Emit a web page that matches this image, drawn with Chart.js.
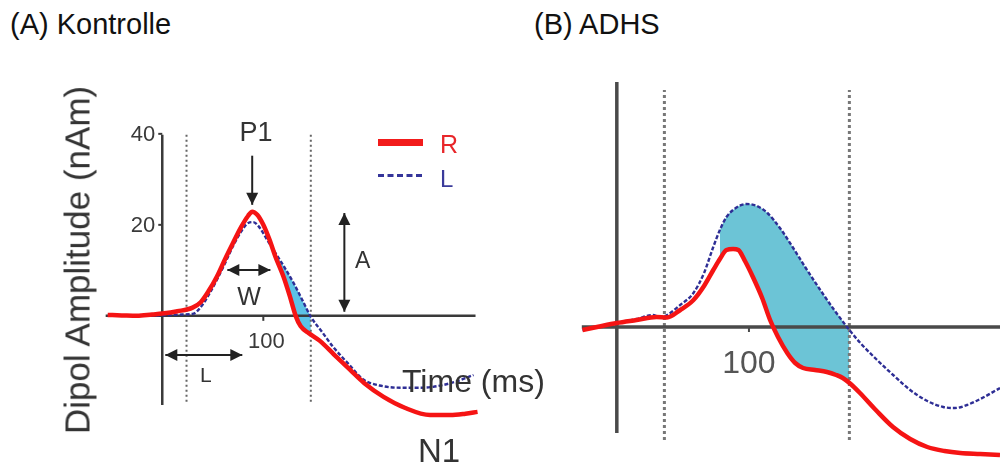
<!DOCTYPE html>
<html>
<head>
<meta charset="utf-8">
<script src="https://cdn.jsdelivr.net/npm/chart.js@4.4.1/dist/chart.umd.min.js"></script>
<style>
  body { margin: 0; width: 1000px; height: 468px; background: #fff; position: relative; overflow: hidden;
         font-family: "Liberation Sans", Arial, sans-serif; }
  canvas { position: absolute; }
  .t { position: absolute; line-height: 1; white-space: nowrap; color: #333; }
</style>
</head>
<body>
<canvas id="chartA" width="480" height="364" style="left:41px;top:102px"></canvas>
<canvas id="chartB" width="440" height="390" style="left:560px;top:77px"></canvas>

<div class="t" style="left:10px;top:10px;font-size:29px;color:#111">(A) Kontrolle</div>
<div class="t" style="left:534px;top:10px;font-size:29px;color:#111">(B) ADHS</div>
<div class="t" style="left:77px;top:260px;font-size:35px;transform:translate(-50%,-50%) rotate(-90deg)">Dipol Amplitude (nAm)</div>
<div class="t" style="left:256px;top:119px;font-size:27px;transform:translateX(-50%)">P1</div>
<div class="t" style="left:249px;top:284px;font-size:25px;transform:translateX(-50%)">W</div>
<div class="t" style="left:355px;top:249px;font-size:23px">A</div>
<div class="t" style="left:200px;top:364px;font-size:21px">L</div>
<div class="t" style="left:402px;top:365px;font-size:32px">Time (ms)</div>
<div class="t" style="left:418px;top:434px;font-size:33px">N1</div>
<!-- Legende -->
<div style="position:absolute;left:378px;top:139px;width:45px;height:7px;background:#f21b1b"></div>
<div style="position:absolute;left:378px;top:174px;width:44px;border-top:3px dashed #35359a"></div>
<div class="t" style="left:440px;top:132px;font-size:25px;color:#e8262a">R</div>
<div class="t" style="left:440px;top:167px;font-size:24px;color:#3a3a9a">L</div>

<script>
  // (A) Kontrolle - Zeit (ms) und Amplitude (nAm)
  const timeRedA = [-54, -40, -25, -10, 0, 15, 30, 38, 46, 54, 62, 70, 78, 85, 89, 94, 100, 106, 112, 120, 126, 132, 137, 145, 156, 170, 186, 200, 219, 240, 265, 285, 300, 312];
  const redA     = [0.2, 0.1, 0, 0.3, 0.5, 1, 1.8, 3, 5.5, 8.6, 12.4, 16, 19.5, 22, 22.9, 22.2, 20, 16.8, 13, 8.6, 4.5, 0, -2.3, -3.8, -5.5, -8.5, -11.9, -14.8, -17.8, -20.2, -21.8, -21.8, -21.5, -21.1];
  const timeBlueA = [-54, -30, 0, 20, 31, 40, 47, 54, 62, 70, 78, 85, 90, 96, 103, 110, 120, 130, 139, 147, 158, 169, 184, 199, 215, 236, 255, 268, 290, 308];
  const blueA     = [0, 0, 0.1, 0.3, 0.5, 2.5, 5, 7.9, 11.5, 15.3, 18.5, 20.4, 20.6, 19.5, 17, 14.5, 11, 7.2, 3.3, -0.2, -3.5, -6.8, -10.5, -14, -15.3, -15.8, -15.8, -15.6, -14.5, -13];
  const yTicksA = [20, 40];
  const xTicksA = [100];
  const markersA = [24, 147];
  const shadeA = [100, 147];

  // (B) ADHS
  const timeRedB = [-26, -15, 0, 15, 30, 38, 48, 58, 66, 73, 78, 83, 88, 92, 97, 103, 110, 116, 122, 129, 135, 141, 150, 159, 166, 171, 177, 184, 196, 209, 222, 235, 248, 260, 275, 290];
  const redB     = [-0.6, 0, 0.8, 1.4, 2, 1.9, 3.4, 5.4, 8.2, 11.4, 13.6, 15.4, 15.6, 15.4, 13.2, 10, 5.8, 1.4, -2, -5.2, -7.2, -8.2, -8.6, -9, -9.6, -10.2, -11.4, -13.2, -16.6, -20, -22.4, -24, -24.8, -25.2, -25.4, -25.6];
  const timeBlueB = [-26, -15, 0, 15, 27, 33, 38, 48, 58, 66, 73, 78, 83, 90, 98, 106, 114, 124, 133, 143, 154, 164, 176, 185, 197, 210, 222, 235, 247, 256, 265, 278, 290];
  const blueB     = [-0.6, 0, 0.8, 1.6, 2.4, 2, 2.4, 4.4, 6.8, 10.8, 16, 19.4, 22, 23.8, 24.6, 24.2, 22.8, 19.6, 16, 11.8, 7.4, 3.6, -0.6, -3.4, -6.6, -9.8, -12.6, -14.8, -16, -16.2, -15.6, -14, -12.2];
  const xTicksB = [100];
  const markersB = [36, 176];
  const shadeB = [78, 176];

  function pts(t, v) {
    return t.map((x, i) => ({ x: x, y: v[i] }));
  }

  function drawArrowHead(ctx, x, y, dx, dy) {
    const len = Math.hypot(dx, dy);
    const ux = dx / len, uy = dy / len;
    ctx.beginPath();
    ctx.moveTo(x, y);
    ctx.lineTo(x - ux * 12 - uy * 6, y - uy * 12 + ux * 6);
    ctx.lineTo(x - ux * 12 + uy * 6, y - uy * 12 - ux * 6);
    ctx.closePath();
    ctx.fill();
  }

  function drawArrow(chart, x1, y1, x2, y2, both) {
    const ctx = chart.ctx;
    const sx = chart.scales.x, sy = chart.scales.y;
    const ax = sx.getPixelForValue(x1), ay = sy.getPixelForValue(y1);
    const bx = sx.getPixelForValue(x2), by = sy.getPixelForValue(y2);
    ctx.save();
    ctx.strokeStyle = '#222';
    ctx.fillStyle = '#222';
    ctx.lineWidth = 2;
    ctx.beginPath();
    ctx.moveTo(ax, ay);
    ctx.lineTo(bx, by);
    ctx.stroke();
    drawArrowHead(ctx, bx, by, bx - ax, by - ay);
    if (both) drawArrowHead(ctx, ax, ay, ax - bx, ay - by);
    ctx.restore();
  }

  // Achsen und gepunktete Linien, gezeichnet nach der Flaeche und vor den Kurven
  function axesPlugin(cfg) {
    return {
      id: 'achsen',
      afterDatasetDraw(chart, args) {
        if (args.index !== 2) return;
        const ctx = chart.ctx;
        const sx = chart.scales.x, sy = chart.scales.y;
        ctx.save();
        // gepunktete Linien
        ctx.strokeStyle = cfg.dotColor;
        ctx.lineWidth = cfg.dotWidth;
        ctx.setLineDash(cfg.dotDash);
        cfg.markers.forEach(m => {
          ctx.beginPath();
          ctx.moveTo(sx.getPixelForValue(m), sy.getPixelForValue(cfg.dotRange[0]));
          ctx.lineTo(sx.getPixelForValue(m), sy.getPixelForValue(cfg.dotRange[1]));
          ctx.stroke();
        });
        ctx.setLineDash([]);
        // Achsen
        ctx.strokeStyle = cfg.axisColor;
        ctx.lineWidth = cfg.axisWidth;
        const y0 = sy.getPixelForValue(0), x0 = sx.getPixelForValue(0);
        ctx.beginPath();
        ctx.moveTo(sx.getPixelForValue(cfg.xRange[0]), y0);
        ctx.lineTo(sx.getPixelForValue(cfg.xRange[1]), y0);
        ctx.moveTo(x0, sy.getPixelForValue(cfg.yRange[0]));
        ctx.lineTo(x0, sy.getPixelForValue(cfg.yRange[1]));
        ctx.stroke();
        // Ticks
        ctx.lineWidth = 2;
        ctx.fillStyle = cfg.labelColor;
        ctx.font = cfg.xFont;
        ctx.textAlign = 'center';
        ctx.textBaseline = 'alphabetic';
        cfg.xTicks.forEach(v => {
          const p = sx.getPixelForValue(v);
          ctx.beginPath();
          ctx.moveTo(p, y0);
          ctx.lineTo(p, y0 + 5);
          ctx.stroke();
          ctx.fillText(String(v), p + cfg.xLabelShift, y0 + cfg.xLabelOffset);
        });
        ctx.font = '22px "Liberation Sans", Arial, sans-serif';
        ctx.textAlign = 'right';
        ctx.textBaseline = 'middle';
        cfg.yTicks.forEach(v => {
          const p = sy.getPixelForValue(v);
          ctx.beginPath();
          ctx.moveTo(x0 - 4, p);
          ctx.lineTo(x0, p);
          ctx.stroke();
          ctx.fillText(String(v), x0 - 7, p + 1);
        });
        ctx.restore();
      },
      afterDatasetsDraw(chart) {
        if (cfg.arrows) cfg.arrows(chart);
      }
    };
  }

  function makeChart(id, red, blue, shade, lim, redWidth, fillColor, plugin) {
    new Chart(document.getElementById(id), {
      type: 'line',
      data: {
        datasets: [{
            label: 'R',
            data: red,
            borderColor: '#f51414',
            borderWidth: redWidth,
            pointRadius: 0,
            cubicInterpolationMode: 'monotone',
            fill: false
          },
          {
            label: 'L',
            data: blue,
            borderColor: '#2e2e95',
            borderWidth: 2.4,
            borderDash: [4, 2],
            pointRadius: 0,
            cubicInterpolationMode: 'monotone',
            fill: false
          },
          {
            label: 'Differenz',
            data: shade,
            borderWidth: 0,
            borderColor: 'rgba(0,0,0,0)',
            pointRadius: 0,
            cubicInterpolationMode: 'monotone',
            fill: { target: 0, above: fillColor, below: 'rgba(0,0,0,0)' }
          }
        ]
      },
      options: {
        responsive: false,
        animation: false,
        events: [],
        layout: { padding: 0 },
        scales: {
          x: { type: 'linear', min: lim[0], max: lim[1], display: false },
          y: { type: 'linear', min: lim[2], max: lim[3], display: false }
        },
        plugins: { legend: { display: false }, tooltip: { enabled: false } }
      },
      plugins: [plugin]
    });
  }

  const blueAPts = pts(timeBlueA, blueA);
  const blueBPts = pts(timeBlueB, blueB);

  makeChart('chartA', pts(timeRedA, redA), blueAPts,
    blueAPts.filter(p => p.x >= shadeA[0] && p.x <= shadeA[1]),
    [-120, 355, -33, 47], 4.5, '#5cc3e6',
    axesPlugin({
      markers: markersA, dotRange: [-18.9, 40.2], dotColor: '#666', dotWidth: 2, dotDash: [2, 3],
      axisColor: '#3a3a3a', axisWidth: 2.5, xRange: [-56, 310], yRange: [-19.6, 39.8],
      xTicks: xTicksA, yTicks: yTicksA, labelColor: '#3a3a3a',
      xFont: '22px "Liberation Sans", Arial, sans-serif', xLabelOffset: 32, xLabelShift: 3,
      arrows: chart => {
        drawArrow(chart, 89, 35.2, 89, 24.4, false);
        drawArrow(chart, 64.4, 10.1, 107, 10.1, true);
        drawArrow(chart, 180.2, 22.6, 180.2, 0.9, true);
        drawArrow(chart, 3, -8.6, 79.2, -8.6, true);
      }
    }));

  makeChart('chartB', pts(timeRedB, redB), blueBPts,
    blueBPts.filter(p => p.x >= shadeB[0] && p.x <= shadeB[1]),
    [-43, 290, -28, 50], 4.5, '#6cc4d6',
    axesPlugin({
      markers: markersB, dotRange: [-22.6, 47.4], dotColor: '#777', dotWidth: 3, dotDash: [3, 3],
      axisColor: '#4a4a4a', axisWidth: 3.5, xRange: [-26.5, 290], yRange: [-21.2, 49],
      xTicks: xTicksB, yTicks: [], labelColor: '#555',
      xFont: '32px "Liberation Sans", Arial, sans-serif', xLabelOffset: 46, xLabelShift: 0,
      arrows: null
    }));
</script>
</body>
</html>
